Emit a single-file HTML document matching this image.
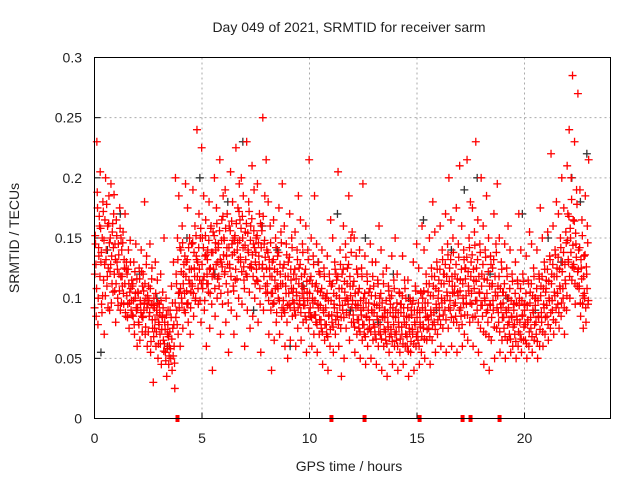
<!DOCTYPE html>
<html><head><meta charset="utf-8"><style>
html,body{margin:0;padding:0;background:#fff;}
svg{display:block;font-family:"Liberation Sans",sans-serif;}
</style></head><body>
<svg id="chart" width="640" height="480" viewBox="0 0 640 480">
<text x="349" y="32" font-size="14" text-anchor="middle" fill="#222">Day 049 of 2021, SRMTID for receiver sarm</text>
<text transform="translate(19,238) rotate(-90)" font-size="14" text-anchor="middle" fill="#222">SRMTID / TECUs</text>
<text x="349" y="471" font-size="14" text-anchor="middle" fill="#222">GPS time / hours</text>
<g id="grid"></g>
<g id="ticks"></g>
<g id="black"></g>
<g id="red"></g>
<g id="marks"></g>
<rect x="94.5" y="57.5" width="516" height="361" fill="none" stroke="#000" stroke-width="1"/>
</svg>
<script>
const xTicks=[0,5,10,15,20];
const yTicks=[0,0.05,0.1,0.15,0.2,0.25,0.3];
const yTickLabels=["0","0.05","0.1","0.15","0.2","0.25","0.3"];
const binHours=0.25;
const redBins=[
[120,145,85,230,175,100,135,160],[205,130,95,150,180,115,70,165],[200,140,110,160,125,185,90,150],[195,135,155,105,170,120,145,80],
[165,130,100,145,120,175,90,150],[140,110,155,95,125,170,85,130],[120,95,140,75,105,130,90,115],[110,85,130,70,100,145,90,60],
[105,80,125,65,95,140,85,110],[120,90,180,70,100,135,60,95],[110,85,145,55,95,125,75,30],[100,75,130,60,90,115,50,80],
[95,70,120,45,85,105,65,150],[80,55,100,35,70,90,45,60],[90,50,110,40,75,130,60,25],[200,120,90,150,70,185,105,60],
[140,100,160,75,120,90,135,195],[130,95,175,80,115,150,70,105],[145,110,190,85,125,160,100,135],[240,130,95,170,115,150,80,225],
[150,115,185,90,135,165,60,120],[140,105,180,75,125,160,95,40],[155,120,200,85,140,175,100,130],[145,110,215,70,130,165,95,185],
[150,120,190,80,135,170,105,55],[160,125,205,90,145,180,110,70],[150,115,225,85,140,175,100,195],[165,130,200,95,150,185,115,60],
[155,120,230,90,140,180,105,75],[160,125,210,85,145,190,100,130],[150,115,195,80,135,170,95,55],[160,125,250,90,145,185,110,215],
[140,105,180,70,125,160,90,40],[130,95,165,65,115,150,80,110],[135,100,175,70,120,155,85,195],[125,90,160,60,110,145,80,50],
[130,95,170,65,115,150,85,105],[120,90,155,60,105,140,75,185],[125,95,165,65,110,145,80,100],[120,85,160,55,105,140,75,215],
[115,85,150,60,100,135,70,185],[110,80,145,55,95,130,70,120],[105,75,140,45,90,125,65,100],[100,70,135,40,85,120,60,165],
[110,80,150,55,95,130,70,120],[115,85,205,60,100,140,75,35],[120,90,160,50,105,145,75,100],[125,95,185,65,110,150,80,155],
[110,80,150,55,95,135,70,120],[105,75,140,50,90,125,65,195],[100,70,135,45,85,120,60,90],[105,75,145,50,90,130,65,110],
[95,70,130,45,85,115,60,160],[100,70,140,40,85,120,60,90],[90,65,125,35,80,110,55,100],[95,70,135,45,85,115,60,150],
[90,65,120,40,80,105,55,95],[95,70,135,45,85,115,60,100],[85,60,115,35,75,100,55,90],[95,70,130,40,80,110,60,145],
[90,65,125,45,80,105,55,160],[100,75,140,50,90,120,65,85],[105,75,150,45,90,125,65,180],[110,80,155,55,95,130,70,100],
[115,85,160,60,100,140,75,120],[120,90,170,55,105,145,75,200],[125,90,165,60,110,150,80,105],[120,85,175,55,105,145,75,210],
[115,85,160,60,100,140,70,125],[125,95,215,65,110,150,80,180],[130,95,175,60,115,155,85,230],[125,90,165,55,105,145,75,200],
[120,85,160,45,100,140,70,185],[115,80,150,40,95,135,65,110],[125,90,170,50,105,145,75,195],[110,80,150,55,95,130,65,105],
[105,75,145,50,90,125,65,160],[100,70,140,55,85,120,60,95],[95,70,130,50,85,115,60,170],[100,70,140,55,85,120,65,95],
[95,65,135,50,80,115,60,155],[105,75,145,55,90,125,65,100],[100,70,140,50,85,120,60,175],[110,80,150,60,95,130,70,105],
[115,85,155,65,100,135,75,220],[120,90,160,70,105,140,80,180],[125,95,170,75,110,150,85,200],[130,100,175,70,115,155,90,210],
[170,130,240,100,150,200,115,285],[165,125,230,95,145,190,110,270],[140,110,190,85,125,165,95,75],[135,100,185,80,120,160,95,215]
];
const redBins2=[
[92,152,128,108,188,78,142,168],[118,158,138,88,102,172,148,128],[102,132,178,118,92,162,146,122],
[128,96,112,162,142,186,106,132],[112,152,124,94,136,106,158,118],[96,118,146,104,132,112,88,124],
[102,84,124,112,96,148,108,98],[86,112,98,78,122,104,92,116],
[92,104,78,116,98,88,122,72],[84,106,96,112,76,128,92,102],[72,98,88,108,64,116,82,94],
[68,92,82,104,72,86,96,62],[78,88,62,98,74,84,92,56],[62,74,48,86,58,78,68,52],
[72,58,84,66,96,52,78,46],[96,84,112,78,132,104,92,142],[108,122,96,146,112,128,104,88],
[118,106,132,96,142,124,112,92],[124,112,146,104,138,118,98,152],[132,118,108,142,124,98,158,112],
[128,108,142,118,98,152,136,112],[132,112,148,124,104,158,138,118],[138,124,152,108,146,128,162,116],
[142,118,156,132,104,148,126,168],[136,148,122,158,112,142,128,96],[142,128,156,118,164,136,148,106],
[138,152,124,162,116,146,132,172],[148,134,158,122,168,142,126,108],[144,132,162,118,154,138,172,126],
[148,128,166,136,118,156,142,112],[138,124,152,114,146,128,108,162],[142,156,128,168,118,148,134,104],
[124,112,138,98,132,118,146,104],[118,104,132,96,124,108,142,88],[122,108,138,98,128,112,146,92],
[112,98,128,88,118,104,136,94],[118,104,134,92,124,108,142,98],[108,96,124,86,116,102,132,92],
[112,98,128,88,118,104,138,94],[108,94,124,82,114,98,132,88],[104,92,118,84,112,96,128,86],
[98,86,112,78,106,92,122,82],[94,82,108,72,102,88,118,78],[92,78,104,68,98,86,114,74],
[98,86,112,76,104,92,124,82],[102,88,118,78,108,94,128,84],[108,94,124,84,114,98,134,88],
[112,98,128,86,118,102,138,92],[98,86,114,76,104,92,124,82],[94,82,108,72,98,86,118,78],
[92,78,104,68,96,84,114,74],[96,82,108,72,102,88,118,78],[88,76,102,66,94,82,112,72],
[92,78,104,66,96,84,112,74],[84,72,98,62,88,76,106,68],[88,74,102,64,92,78,108,70],
[84,72,96,60,88,76,104,66],[88,76,102,62,92,80,108,70],[78,68,92,56,84,72,98,64],
[86,74,98,62,90,78,106,68],[84,72,96,60,88,76,104,68],[92,78,106,66,96,84,112,74],
[96,82,112,68,102,86,118,78],[102,88,118,74,108,92,124,82],[106,92,124,78,112,96,132,86],
[112,98,128,82,118,102,136,92],[114,98,132,84,118,104,138,94],[110,96,128,80,116,102,134,90],
[106,92,124,78,112,96,132,86],[116,102,134,86,122,106,142,96],[118,104,136,84,124,108,144,98],
[114,98,132,80,118,104,138,94],[110,94,128,72,116,98,134,88],[104,90,122,68,110,94,128,84],
[112,98,132,76,118,102,138,92],[102,88,118,72,108,92,124,84],[96,84,112,68,102,88,118,78],
[92,80,108,66,98,84,114,76],[90,78,104,64,96,82,112,72],[94,80,108,66,98,86,114,76],
[90,78,104,62,94,82,112,72],[96,84,112,68,102,88,118,78],[94,80,108,64,98,84,116,74],
[102,88,118,72,108,92,124,84],[108,94,124,78,114,98,132,88],[112,98,128,82,118,102,136,92],
[118,104,134,88,124,108,142,96],[122,108,138,92,128,112,146,102],[148,132,168,118,158,138,182,126],
[144,128,164,112,154,134,178,122],[124,108,142,96,132,116,152,102],[118,104,136,92,126,108,146,98]
];
const blackT=[0.3,0.6,1.2,2.1,2.9,3.4,4.3,4.9,5.6,6.2,6.9,7.4,7.8,8.5,9.1,9.7,10.4,11.3,11.9,12.6,13.2,13.9,14.6,15.3,15.9,16.6,17.2,17.8,18.4,19.2,19.9,20.5,21.1,21.7,22.2,22.6,22.9];
const blackY=[0.055,0.14,0.17,0.12,0.1,0.06,0.15,0.2,0.12,0.18,0.23,0.09,0.16,0.14,0.06,0.11,0.13,0.17,0.09,0.15,0.08,0.12,0.1,0.165,0.09,0.14,0.19,0.2,0.12,0.1,0.17,0.09,0.15,0.13,0.2,0.18,0.22];
const markHours=[3.86,11.02,12.56,15.12,17.12,17.49,18.84];

const NS="http://www.w3.org/2000/svg";
const X0=94.5,X1=610.5,Y0=418.5,Y1=57.5,TMAX=24,YMAX=0.3;
function xs(t){return X0+(X1-X0)*t/TMAX;}
function ys(v){return Y0-(Y0-Y1)*v/YMAX;}
function mk(tag,attrs){const e=document.createElementNS(NS,tag);for(const k in attrs)e.setAttribute(k,attrs[k]);return e;}
const grid=document.getElementById('grid'),ticks=document.getElementById('ticks');
xTicks.forEach((t)=>{
  const x=xs(t);
  if(t>0){const g=mk('line',{x1:x,x2:x,y1:Y1,y2:Y0,stroke:'#aaa','stroke-dasharray':'2,3'});
  
  grid.appendChild(g);}
  const l=mk('text',{x:x,y:443,'font-size':14,'text-anchor':'middle',fill:'#222'});l.textContent=String(t);
  
  ticks.appendChild(l);
  ticks.appendChild(mk('line',{x1:x,x2:x,y1:Y0,y2:Y0-6,stroke:'#000'}));
});
yTicks.forEach((v,i)=>{
  const y=ys(v);
  if(v>0&&v<YMAX){const g=mk('line',{x1:X0,x2:X1,y1:y,y2:y,stroke:'#aaa','stroke-dasharray':'2,3'});
  
  grid.appendChild(g);}
  const l=mk('text',{x:82,y:y+5,'font-size':14,'text-anchor':'end',fill:'#222'});l.textContent=yTickLabels[i];
  
  ticks.appendChild(l);
  ticks.appendChild(mk('line',{x1:X0,x2:X0+6,y1:y,y2:y,stroke:'#000'}));
});
function plus(g,x,y,c,name){
  const p=mk('path',{d:`M${x-4},${y}h8M${x},${y-4}v8`,stroke:c,'stroke-width':1.3,fill:'none'});
  
  
  g.appendChild(p);
}
const bg=document.getElementById('black');
blackT.forEach((t,i)=>plus(bg,xs(t),ys(blackY[i]),'#333','black-point'));
const rg=document.getElementById('red');
redBins.forEach((vals,b)=>{
  vals.forEach((v,i)=>{
    const t=b*binHours+(i+0.5)*binHours/vals.length;
    plus(rg,xs(t),ys(v/1000),'#ff0000','red-point');
  });
});
redBins2.forEach((vals,b)=>{
  vals.forEach((v,i)=>{
    const t=b*binHours+(i+0.1)*binHours/vals.length;
    plus(rg,xs(t),ys(v/1000),'#ff0000','red-point');
  });
});
const mg=document.getElementById('marks');
markHours.forEach(t=>{
  const r=mk('rect',{x:xs(t)-2,y:415,width:4,height:7,fill:'#ff0000'});
  
  
  mg.appendChild(r);
});
</script>
</body></html>
